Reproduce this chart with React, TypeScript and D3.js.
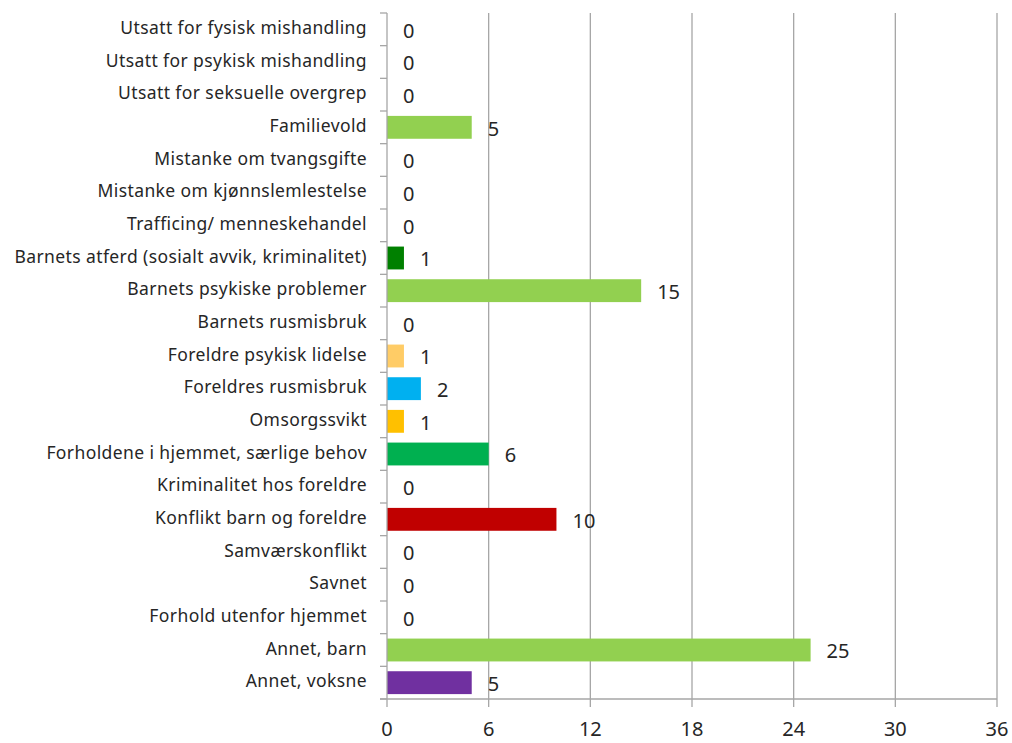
import { useEffect, useRef } from "react";
import * as d3 from "d3";

const categories = [
  "Utsatt for fysisk mishandling",
  "Utsatt for psykisk mishandling",
  "Utsatt for seksuelle overgrep",
  "Familievold",
  "Mistanke om tvangsgifte",
  "Mistanke om kjønnslemlestelse",
  "Trafficing/ menneskehandel",
  "Barnets atferd (sosialt avvik, kriminalitet)",
  "Barnets psykiske problemer",
  "Barnets rusmisbruk",
  "Foreldre psykisk lidelse",
  "Foreldres rusmisbruk",
  "Omsorgssvikt",
  "Forholdene i hjemmet, særlige behov",
  "Kriminalitet hos foreldre",
  "Konflikt barn og foreldre",
  "Samværskonflikt",
  "Savnet",
  "Forhold utenfor hjemmet",
  "Annet, barn",
  "Annet, voksne",
];

const values = [0, 0, 0, 5, 0, 0, 0, 1, 15, 0, 1, 2, 1, 6, 0, 10, 0, 0, 0, 25, 5];

const barColors = [
  "#92D050", "#92D050", "#92D050", "#92D050", "#92D050", "#92D050", "#92D050",
  "#008000", "#92D050", "#92D050", "#FFCC66", "#00B0F0", "#FFC000", "#00B050",
  "#92D050", "#C00000", "#92D050", "#92D050", "#92D050", "#92D050", "#7030A0",
];

const xTicks = [0, 6, 12, 18, 24, 30, 36];

export default function App() {
  const svgRef = useRef<SVGSVGElement>(null);

  useEffect(() => {
    if (!svgRef.current) return;
    const width = 1012;
    const height = 743;
    const margin = { top: 13, right: 15, bottom: 44, left: 387 };
    const innerW = width - margin.left - margin.right;
    const innerH = height - margin.top - margin.bottom;
    const font = "'Noto Sans', 'Open Sans', sans-serif";

    const svg = d3.select(svgRef.current).attr("width", width).attr("height", height);
    svg.selectAll("*").remove();

    const g = svg.append("g").attr("transform", `translate(${margin.left},${margin.top})`);

    const x = d3.scaleLinear().domain([0, 36]).range([0, innerW]);
    const y = d3.scaleBand().domain(categories).range([0, innerH]).paddingInner(0.3).paddingOuter(0.15);
    const step = y.step();

    // vertical grid
    xTicks.slice(1).forEach((t) => {
      g.append("line")
        .attr("x1", x(t))
        .attr("x2", x(t))
        .attr("y1", 0)
        .attr("y2", innerH + 8)
        .attr("stroke", "#A6A6A6")
        .attr("stroke-width", 1.3);
    });

    // bars
    categories.forEach((c, i) => {
      const v = values[i];
      if (v > 0) {
        g.append("rect")
          .attr("x", 0)
          .attr("y", y(c)!)
          .attr("width", x(v))
          .attr("height", y.bandwidth())
          .attr("fill", barColors[i]);
      }
      g.append("text")
        .attr("x", x(v) + 16)
        .attr("y", y(c)! + y.bandwidth() / 2 + 3)
        .attr("dominant-baseline", "middle")
        .attr("font-family", font)
        .attr("font-size", 20)
        .attr("fill", "#262626")
        .text(v);
      g.append("text")
        .attr("x", -20)
        .attr("y", y(c)! + y.bandwidth() / 2)
        .attr("dominant-baseline", "middle")
        .attr("text-anchor", "end")
        .attr("font-family", font)
        .attr("font-size", 17.5)
        .attr("letter-spacing", 0.4)
        .attr("fill", "#262626")
        .text(c);
    });

    // left axis line + ticks between categories
    g.append("line")
      .attr("x1", 0)
      .attr("x2", 0)
      .attr("y1", 0)
      .attr("y2", innerH)
      .attr("stroke", "#A6A6A6")
      .attr("stroke-width", 1.3);
    d3.range(categories.length + 1).forEach((k) => {
      g.append("line")
        .attr("x1", -7)
        .attr("x2", 0)
        .attr("y1", k * step)
        .attr("y2", k * step)
        .attr("stroke", "#A6A6A6")
        .attr("stroke-width", 1.3);
    });

    // bottom axis
    g.append("line")
      .attr("x1", -7)
      .attr("x2", innerW)
      .attr("y1", innerH)
      .attr("y2", innerH)
      .attr("stroke", "#A6A6A6")
      .attr("stroke-width", 1.3);
    g.append("line")
      .attr("x1", 0)
      .attr("x2", 0)
      .attr("y1", innerH)
      .attr("y2", innerH + 8)
      .attr("stroke", "#A6A6A6")
      .attr("stroke-width", 1.3);
    xTicks.forEach((t) => {
      g.append("text")
        .attr("x", x(t))
        .attr("y", innerH + 32)
        .attr("text-anchor", "middle")
        .attr("dominant-baseline", "middle")
        .attr("font-family", font)
        .attr("font-size", 20)
        .attr("fill", "#262626")
        .text(t);
    });
  }, []);

  return (
    <svg ref={svgRef} style={{ position: "absolute", left: 0, top: 0, background: "#fff" }} />
  );
}
